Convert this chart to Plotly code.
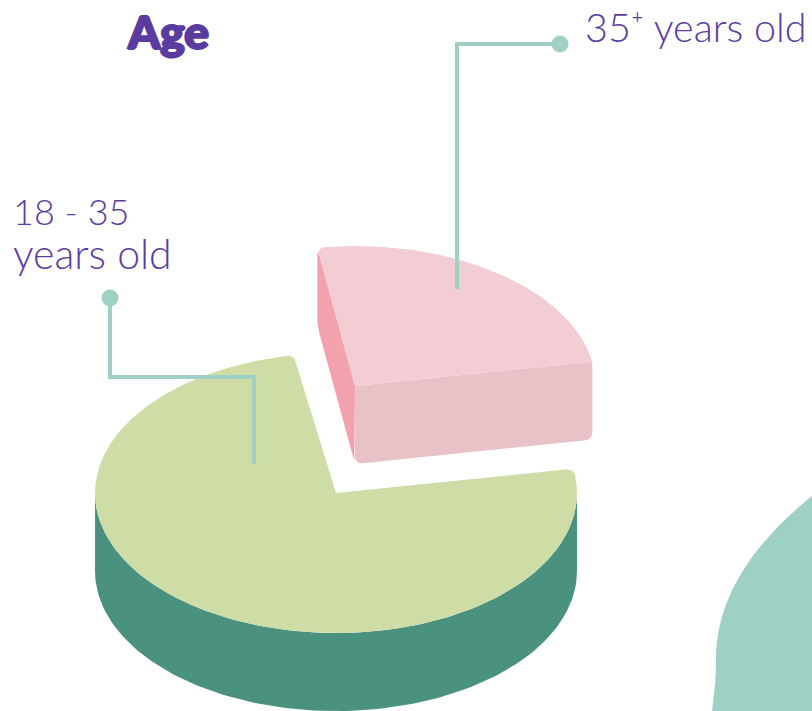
import numpy as np
import plotly.graph_objects as go

# --- data ---
age_labels = ["18 - 35", "years old", "35\u207a years old"]
age_shares = [75, 25]
title_text = "Age"

# --- style / geometry ---
W, H = 812, 711
RX, RY, DEPTH = 241, 140, 78
START = 10
GREEN_C = (336, 493)
PINK_C = (355, 386)
C_GREEN_TOP, C_GREEN_SIDE = "#CEDDA5", "#4A927F"
C_PINK_TOP, C_PINK_FRONT, C_PINK_LEFT = "#F2CDD3", "#E8C2C7", "#F3A1AC"
TEAL, PURPLE = "#9ED0C6", "#5A3CA0"


def arc(c, a0, a1, n=120, dy=0):
    t = np.radians(np.linspace(a0, a1, n))
    return np.column_stack([c[0] + RX * np.cos(t), c[1] - RY * np.sin(t) + dy])


def rounded(pts, idx, r):
    """Replace the vertices listed in idx with small quadratic corners."""
    out, n = [], len(pts)
    for i, p in enumerate(pts):
        if i not in idx:
            out.append(p)
            continue
        a, b = pts[(i - 1) % n], pts[(i + 1) % n]
        u = p + (a - p) / np.linalg.norm(a - p) * r
        v = p + (b - p) / np.linalg.norm(b - p) * r
        for s in np.linspace(0, 1, 8):
            out.append((1 - s) ** 2 * u + 2 * s * (1 - s) * p + s ** 2 * v)
    return np.array(out)


def poly(fig, pts, color):
    pts = np.vstack([pts, pts[:1]])
    fig.add_trace(go.Scatter(x=pts[:, 0], y=pts[:, 1], mode="lines", fill="toself",
                             fillcolor=color, line=dict(width=0), hoverinfo="skip",
                             showlegend=False))


pink_sweep = age_shares[1] / sum(age_shares) * 360
A_MID = START + pink_sweep
fig = go.Figure()

# green slice: side wall then top
side = np.vstack([arc(GREEN_C, 180, 360), arc(GREEN_C, 360, 180, dy=DEPTH)])
poly(fig, side, C_GREEN_SIDE)
g_arc = arc(GREEN_C, A_MID, START + 360, n=300)
g_top = np.vstack([np.array([GREEN_C], float), g_arc])
poly(fig, rounded(g_top, {1, len(g_top) - 1}, 8), C_GREEN_TOP)

# pink slice: left wall, front wall, top
p_arc = arc(PINK_C, START, A_MID - 1)
apex = np.array(PINK_C, float)
down = np.array([0, DEPTH], float)
right, left = p_arc[0], p_arc[-1]
poly(fig, rounded(np.array([left, apex, apex + down, left + down]), {0, 2, 3}, 8), C_PINK_LEFT)
poly(fig, rounded(np.array([apex, right, right + down, apex + down]), {2, 3}, 8), C_PINK_FRONT)
p_top = np.vstack([apex[None], p_arc])
poly(fig, rounded(p_top, {len(p_top) - 1}, 8), C_PINK_TOP)

# leader lines
leaders = [([110, 110, 254, 254], [298, 377, 377, 464]),
           ([560, 457, 457], [44, 44, 289])]
for xs, ys in leaders:
    fig.add_trace(go.Scatter(x=xs, y=ys, mode="lines", line=dict(color=TEAL, width=4),
                             hoverinfo="skip", showlegend=False))
    fig.add_trace(go.Scatter(x=xs[:1], y=ys[:1], mode="markers",
                             marker=dict(color=TEAL, size=17, line=dict(width=0)),
                             hoverinfo="skip", showlegend=False))

HEAVY = ", ".join(f"{a}px {b}px 0 {PURPLE}" for a, b in
                  [(1.2, 0), (-1.2, 0), (0, 0.7), (0, -0.7)])
fig.update_layout(
    width=W, height=H, margin=dict(l=0, r=0, t=0, b=0, pad=0),
    paper_bgcolor="white", plot_bgcolor="white",
    xaxis=dict(range=[0, W], visible=False, fixedrange=True),
    yaxis=dict(range=[H, 0], visible=False, fixedrange=True),
    shapes=[dict(type="path", xref="x", yref="y", layer="below", line=dict(width=0),
                 fillcolor=TEAL,
                 path="M812,496 C770,530 716,585 716,660 C716,680 714,695 712,711 L812,711 Z")],
    annotations=[
        dict(x=168, y=31, text=title_text, showarrow=False, xref="x", yref="y",
             xanchor="center", yanchor="middle",
             font=dict(family="Lato", size=46, color=PURPLE, weight=900, shadow=HEAVY)),
        dict(x=11, y=211, text=age_labels[0], showarrow=False, xref="x", yref="y",
             xanchor="left", yanchor="middle",
             font=dict(family="Lato", size=36, color=PURPLE, weight=300)),
        dict(x=11, y=253, text=age_labels[1], showarrow=False, xref="x", yref="y",
             xanchor="left", yanchor="middle",
             font=dict(family="Lato", size=41, color=PURPLE, weight=300)),
        dict(x=583, y=26, text=age_labels[2], showarrow=False, xref="x", yref="y",
             xanchor="left", yanchor="middle",
             font=dict(family="Lato", size=39.5, color=PURPLE, weight=300)),
    ],
)
fig.write_html("out.html", config=dict(displayModeBar=False),
               post_script="document.body.style.margin='0';document.body.style.overflow='hidden';")
